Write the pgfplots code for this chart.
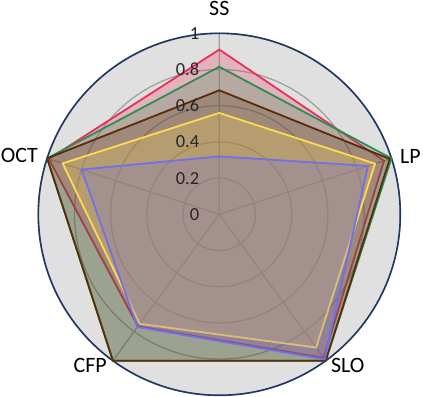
\documentclass[border=0pt]{standalone}
\usepackage{fontspec}
\setmainfont{Carlito}
\usepackage{pgfplots}
\pgfplotsset{compat=1.18}
\usepgfplotslibrary{polar}

\definecolor{cRed}{RGB}{232,48,88}
\definecolor{cGreen}{RGB}{48,140,85}
\definecolor{cBrown}{RGB}{90,45,10}
\definecolor{cYellow}{RGB}{255,217,80}
\definecolor{cBlue}{RGB}{112,112,235}
\definecolor{bgGray}{RGB}{224,224,224}
\definecolor{gridGray}{RGB}{160,160,160}
\definecolor{navy}{RGB}{31,56,100}

\begin{document}
\begin{tikzpicture}
\begin{polaraxis}[
    width=362bp, height=362bp, scale only axis,
    xmin=90, xmax=450,
    ymin=0, ymax=1,
    xtick={90,162,234,306,378},
    xticklabels={},
    ytick={0,0.2,0.4,0.6,0.8,1},
    yticklabels={},
    major tick length=0pt,
    grid=major,
    major grid style={draw=gridGray, line width=1.3bp},
    x axis line style={draw=navy, line width=1.6bp},
    y axis line style={draw=none},
    axis background/.style={fill=bgGray},
    clip=false,
]
\addplot[draw=cRed, line width=1.8bp, fill=cRed, fill opacity=0.25]
    coordinates {(90,0.91) (162,0.99) (234,0.765) (306,0.98) (378,0.957)} -- cycle;
\addplot[draw=cGreen, line width=1.8bp, fill=cGreen, fill opacity=0.25]
    coordinates {(90,0.815) (162,1.0) (234,1.0) (306,1.0) (378,1.0)} -- cycle;
\addplot[draw=cBrown, line width=1.8bp, fill=cBrown, fill opacity=0.25]
    coordinates {(90,0.685) (162,1.0) (234,1.0) (306,1.0) (378,0.99)} -- cycle;
\addplot[draw=cYellow, line width=1.8bp, fill=cYellow, fill opacity=0.25]
    coordinates {(90,0.56) (162,0.91) (234,0.748) (306,0.91) (378,0.905)} -- cycle;
\addplot[draw=cBlue, line width=1.8bp, fill=cBlue, fill opacity=0.25]
    coordinates {(90,0.32) (162,0.80) (234,0.77) (306,0.99) (378,0.864)} -- cycle;
\coordinate (c) at (axis cs:0,0);
% radial value labels, drawn over the series
\begin{scope}[every node/.style={font=\fontsize{18.5}{22}\selectfont, text=black!85, anchor=east, inner sep=0pt, xshift=-20bp}]
\node at (axis cs:90,0) {0};
\node at (axis cs:90,0.2) {0.2};
\node at (axis cs:90,0.4) {0.4};
\node at (axis cs:90,0.6) {0.6};
\node at (axis cs:90,0.8) {0.8};
\node at (axis cs:90,1) {1};
\end{scope}
% category labels
\begin{scope}[every node/.style={inner sep=0pt, font=\fontsize{22}{26}\selectfont}]
\node[anchor=base] at (axis cs:90,1.096) {SS};
\node[anchor=base west] at (axis cs:375.85,1.0377) {LP};
\node[anchor=base west] at (axis cs:305.14,1.072) {SLO};
\node[anchor=base east] at (axis cs:234.7,1.074) {CFP};
\node[anchor=base east] at (axis cs:164.2,1.041) {OCT};
\end{scope}
\end{polaraxis}
\pgfresetboundingbox
\path[use as bounding box] (c) ++(-219.3bp,-182.7bp) rectangle ++(423bp,397bp);
\end{tikzpicture}
\end{document}
